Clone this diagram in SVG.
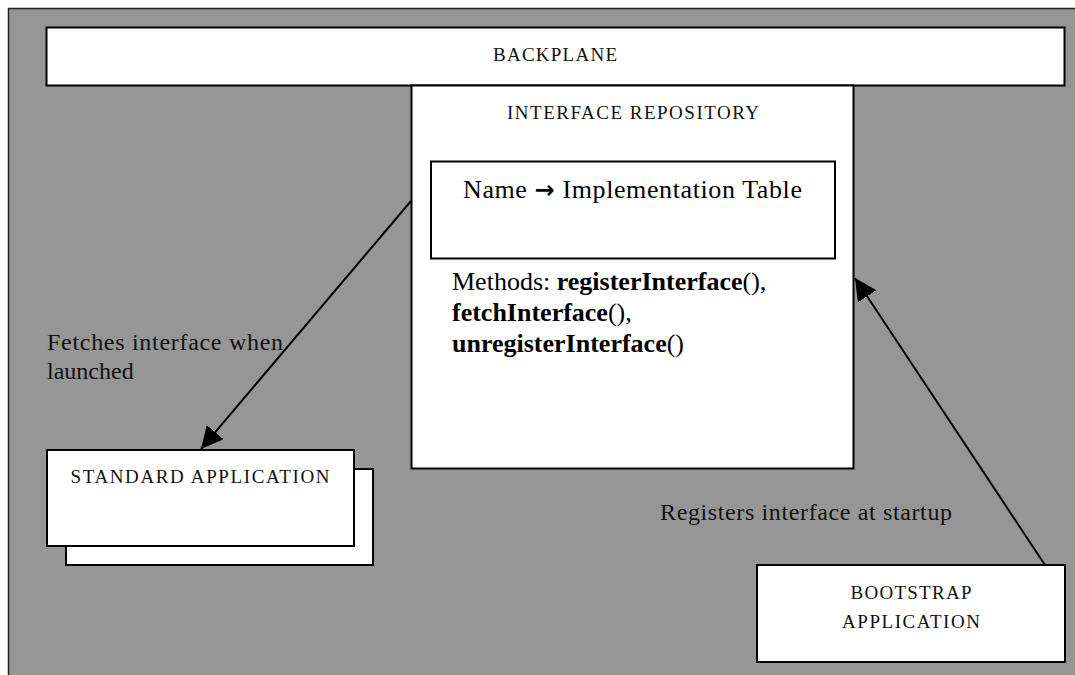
<svg xmlns="http://www.w3.org/2000/svg" width="1075" height="675" viewBox="0 0 1075 675">
<defs>
<style>
.box{fill:#fff;stroke:#000;stroke-width:2}
.cap{font-family:"Liberation Serif",serif;font-size:19px;fill:#111}
.lbl{font-family:"Liberation Serif",serif;font-size:24px;fill:#111}
.big{font-family:"Liberation Serif",serif;font-size:26px;fill:#000}
.sym{font-family:"DejaVu Sans",sans-serif;font-weight:bold;font-size:24px}
.conn{stroke:#000;stroke-width:2;fill:none}
</style>
<marker id="ah" markerUnits="userSpaceOnUse" markerWidth="24" markerHeight="22" refX="22" refY="11" orient="auto">
<path d="M0,0 L22,11 L0,22 z" fill="#000"/>
</marker>
</defs>
<rect id="background" x="8.5" y="8.5" width="1080" height="680" fill="#969696" stroke="#222" stroke-width="1.5"/>
<g id="backplane">
<rect class="box" x="46.5" y="27.5" width="1018" height="58"/>
<text class="cap" x="555" y="61" text-anchor="middle" textLength="124">BACKPLANE</text>
</g>
<g id="interface-repository">
<rect class="box" x="411.5" y="85.5" width="442" height="383"/>
<text class="cap" x="633" y="119" text-anchor="middle" textLength="252">INTERFACE REPOSITORY</text>
<rect class="box" x="431" y="161.5" width="404" height="97"/>
<text class="big" x="463" y="198" textLength="339">Name <tspan class="sym">→</tspan> Implementation Table</text>
<text class="big" x="452" y="290">Methods: <tspan font-weight="bold">registerInterface</tspan>(),</text>
<text class="big" x="452" y="321"><tspan font-weight="bold">fetchInterface</tspan>(),</text>
<text class="big" x="452" y="352"><tspan font-weight="bold">unregisterInterface</tspan>()</text>
</g>
<g id="standard-application">
<rect class="box" x="66" y="469" width="307" height="96"/>
<rect class="box" x="47" y="450" width="307" height="96"/>
<text class="cap" x="200" y="483" text-anchor="middle" textLength="259">STANDARD APPLICATION</text>
</g>
<g id="bootstrap-application">
<rect class="box" x="757" y="565" width="308" height="97"/>
<text class="cap" x="911" y="599" text-anchor="middle" textLength="121">BOOTSTRAP</text>
<text class="cap" x="911" y="628" text-anchor="middle" textLength="138">APPLICATION</text>
</g>
<g id="connectors">
<line class="conn" x1="411" y1="201" x2="201" y2="449" marker-end="url(#ah)"/>
<line class="conn" x1="1045" y1="565" x2="855" y2="278" marker-end="url(#ah)"/>
<text class="lbl" x="47" y="350" textLength="236">Fetches interface when</text>
<text class="lbl" x="47" y="379">launched</text>
<text class="lbl" x="660" y="520" textLength="292">Registers interface at startup</text>
</g>
</svg>
